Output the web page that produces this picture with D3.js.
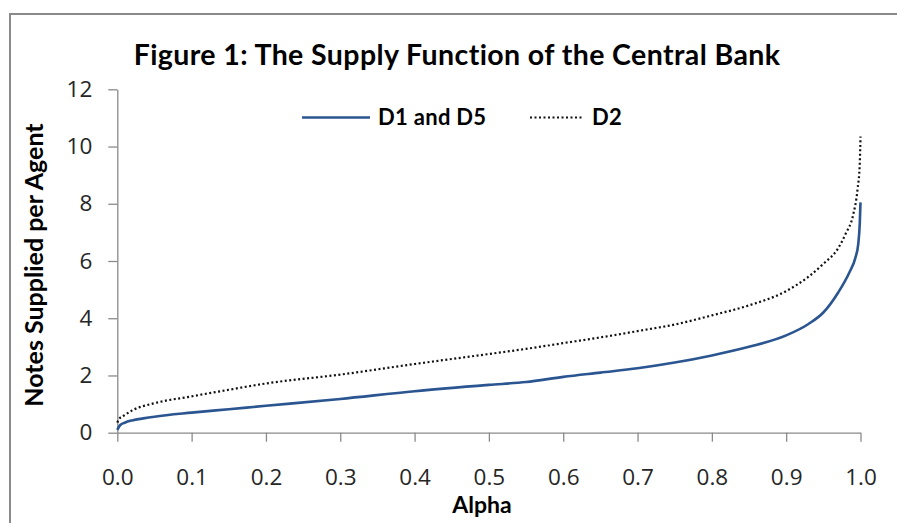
<!DOCTYPE html>
<html>
<head>
<meta charset="utf-8">
<script src="https://cdn.jsdelivr.net/npm/d3@7"></script>
<style>
  body { margin: 0; background: #fff; }
  svg { display: block; }
</style>
</head>
<body>
<script>
// series
var alphaD1 = [0, 0.004, 0.01, 0.02, 0.035, 0.05, 0.1, 0.15, 0.2, 0.3, 0.4, 0.5, 0.55, 0.6, 0.65, 0.7, 0.75, 0.8, 0.85, 0.9, 0.93, 0.95, 0.97, 0.985, 0.993, 0.997, 0.999, 1.0];
var notesD1 = [0.1, 0.27, 0.35, 0.43, 0.5, 0.56, 0.70, 0.82, 0.94, 1.18, 1.45, 1.67, 1.77, 1.95, 2.1, 2.25, 2.45, 2.7, 3.0, 3.4, 3.8, 4.2, 4.9, 5.6, 6.1, 6.6, 7.3, 8.05];

var alphaD2 = [0, 0.002, 0.009, 0.02, 0.05, 0.1, 0.15, 0.2, 0.3, 0.4, 0.5, 0.55, 0.6, 0.65, 0.7, 0.75, 0.8, 0.85, 0.9, 0.93, 0.95, 0.97, 0.98, 0.99, 0.996, 0.999, 1.0];
var notesD2 = [0.35, 0.47, 0.6, 0.78, 1.03, 1.27, 1.5, 1.72, 2.03, 2.4, 2.75, 2.93, 3.13, 3.33, 3.55, 3.78, 4.1, 4.45, 4.95, 5.45, 5.9, 6.45, 6.95, 7.6, 8.5, 9.4, 10.35];

var xTicks = [0, 0.1, 0.2, 0.3, 0.4, 0.5, 0.6, 0.7, 0.8, 0.9, 1.0];
var yTicks = [0, 2, 4, 6, 8, 10, 12];
var seriesNames = ["D1 and D5", "D2"];

var W = 897, H = 523;
var margin = { top: 89.3, right: 36.5, bottom: 90.3, left: 117.3 },
    width = W - margin.left - margin.right,
    height = H - margin.top - margin.bottom;

var svg = d3.select("body").append("svg")
    .attr("width", W)
    .attr("height", H);

// outer chart frame
svg.append("rect")
    .attr("x", 10).attr("y", 14)
    .attr("width", 900).attr("height", 520)
    .attr("fill", "none")
    .attr("stroke", "#8a8a8a")
    .attr("stroke-width", 2);

svg.append("text")
    .attr("x", 457).attr("y", 65)
    .attr("text-anchor", "middle")
    .attr("font-family", "Lato")
    .attr("font-weight", "bold")
    .attr("font-size", 28.5)
    .attr("letter-spacing", 0.4)
    .attr("fill", "#000")
    .text("Figure 1: The Supply Function of the Central Bank");

var g = svg.append("g")
    .attr("transform", "translate(" + margin.left + "," + margin.top + ")");

var xScale = d3.scaleLinear().domain([0, 1]).range([0, width]);
var yScale = d3.scaleLinear().domain([0, 12]).range([height, 0]);

var xAxis = d3.axisBottom(xScale).tickValues(xTicks).tickFormat(d3.format(".1f"))
    .tickSizeInner(9).tickSizeOuter(0).tickPadding(27);
var yAxis = d3.axisLeft(yScale).tickValues(yTicks)
    .tickSizeInner(9).tickSizeOuter(0).tickPadding(16);

function styleAxis(sel) {
    sel.select(".domain").attr("stroke", "#8a8a8a").attr("stroke-width", 1.3);
    sel.selectAll(".tick line").attr("stroke", "#8a8a8a").attr("stroke-width", 1.3);
    sel.selectAll(".tick text")
        .attr("font-family", "Open Sans")
        .attr("font-size", 22.5)
        .attr("fill", "#262626");
}

g.append("g")
    .attr("class", "x axis")
    .attr("transform", "translate(0," + height + ")")
    .call(xAxis)
    .call(styleAxis);

g.append("g")
    .attr("class", "y axis")
    .call(yAxis)
    .call(styleAxis);

var line = d3.line()
    .x(function (d) { return xScale(d[0]); })
    .y(function (d) { return yScale(d[1]); })
    .curve(d3.curveMonotoneX);

g.append("path")
    .datum(d3.zip(alphaD2, notesD2))
    .attr("fill", "none")
    .attr("stroke", "#111")
    .attr("stroke-width", 2.2)
    .attr("stroke-dasharray", "2,2.5")
    .attr("d", line);

g.append("path")
    .datum(d3.zip(alphaD1, notesD1))
    .attr("fill", "none")
    .attr("stroke", "#2a5591")
    .attr("stroke-width", 2.6)
    .attr("d", line);

// axis titles
svg.append("text")
    .attr("x", 482).attr("y", 513)
    .attr("text-anchor", "middle")
    .attr("font-family", "Lato")
    .attr("font-weight", "bold")
    .attr("font-size", 23)
    .text("Alpha");

svg.append("text")
    .attr("transform", "translate(43,265) rotate(-90)")
    .attr("text-anchor", "middle")
    .attr("font-family", "Lato")
    .attr("font-weight", "bold")
    .attr("font-size", 25)
    .text("Notes Supplied per Agent");

// legend
var legend = svg.append("g").attr("class", "legend");
var legendItems = [
    { name: seriesNames[0], x: 302, stroke: "#2a5591", dash: null, w: 2.6, len: 68 },
    { name: seriesNames[1], x: 530, stroke: "#111", dash: "2,2.5", w: 1.8, len: 54 }
];
legendItems.forEach(function (it) {
    legend.append("line")
        .attr("x1", it.x).attr("x2", it.x + it.len)
        .attr("y1", 117.5).attr("y2", 117.5)
        .attr("stroke", it.stroke)
        .attr("stroke-width", it.w)
        .attr("stroke-dasharray", it.dash);
    legend.append("text")
        .attr("x", it.x + it.len + 8).attr("y", 125)
        .attr("font-family", "Lato")
        .attr("font-weight", "bold")
        .attr("font-size", 22)
        .attr("letter-spacing", 0.3)
        .text(it.name);
});
</script>
</body>
</html>
